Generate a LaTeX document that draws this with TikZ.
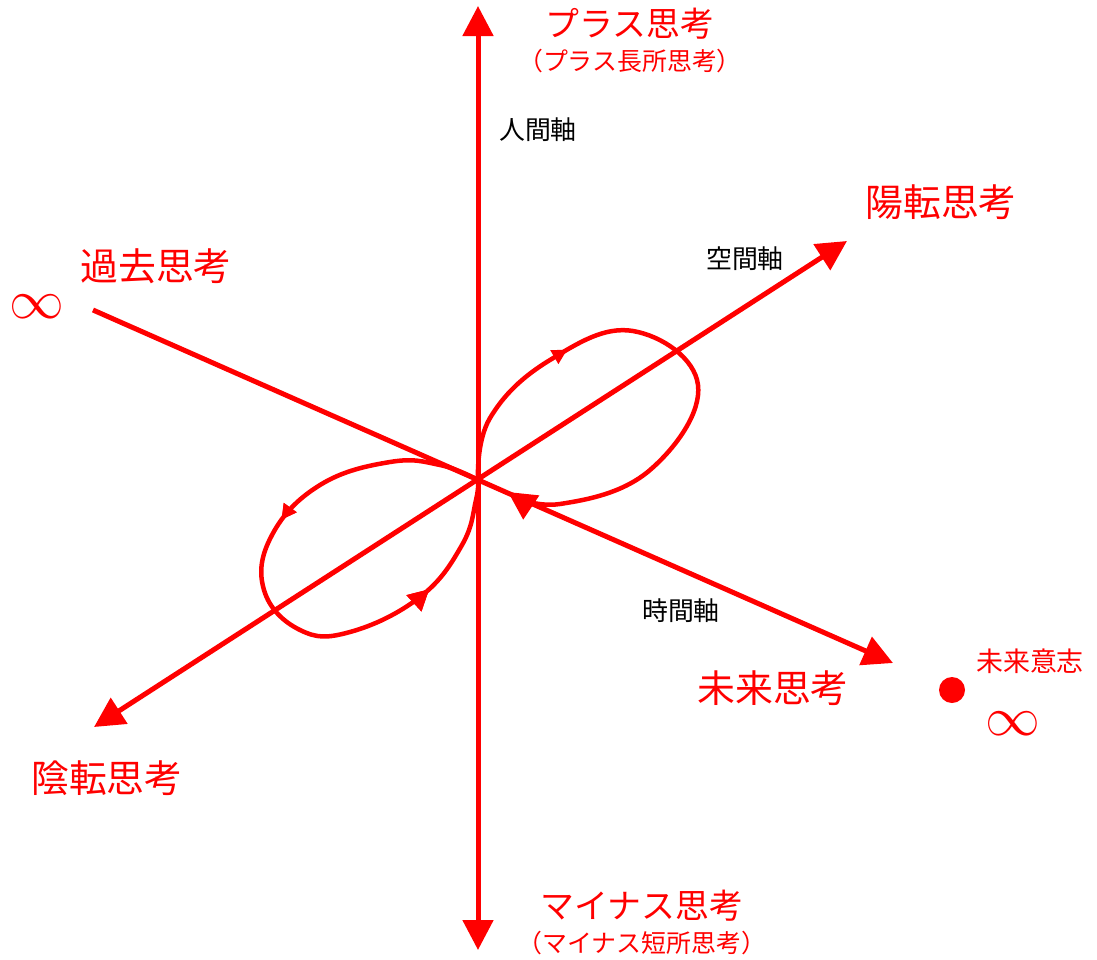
\documentclass[tikz,border=0pt]{standalone}
\usepackage{fontspec}
\setmainfont{Noto Sans CJK JP}
\usetikzlibrary{arrows.meta, positioning, decorations.markings}

\begin{document}
\begin{tikzpicture}[x=1bp, y=-1bp,
  axis/.style={red, line width=5bp},
  bigtip/.style={-{Triangle[width=30bp,length=30bp]}},
  loopline/.style={red, line width=4.5bp},
  head/.style={font=\fontsize{38}{42}\selectfont, text=red, inner sep=0pt},
  pmhead/.style={font=\fontsize{34}{38}\selectfont, text=red, inner sep=0pt},
  note/.style={font=\fontsize{25}{28}\selectfont, text=red, inner sep=0pt},
  axisname/.style={font=\fontsize{26}{28}\selectfont, inner sep=0pt},
  inftymark/.style={text=red, inner sep=0pt, scale=5.5},
  midtip/.style 2 args={postaction={decorate}, decoration={markings,
    mark=at position #1 with {\arrow{Triangle[width=#2,length=#2]}}}}]
\useasboundingbox (0,0) rectangle (1097,960);

% 軸の端点
\coordinate (o) at (478,480);
\coordinate (top) at (478,6);
\coordinate (bot) at (478,950);
\coordinate (past) at (93,310);
\coordinate (future) at (893,663);
\coordinate (ll) at (94,727);
\coordinate (ur) at (847,241);

% 軸
\draw[axis, {Triangle[width=30bp,length=30bp]}-{Triangle[width=30bp,length=30bp]}] (top) -- (bot);
\draw[axis, {Triangle[width=30bp,length=30bp]}-{Triangle[width=30bp,length=30bp]}] (ll) -- (ur);
\draw[axis, bigtip] (past) -- (future);

% ループ
\draw[loopline, midtip={0.29}{15bp}, -{Triangle[width=28bp,length=28bp]}]
  plot[smooth, tension=0.7] coordinates {(o) (490,418) (550,360) (633,331) (698,385) (650,470) (560,504) (508,492)};
\draw[loopline, midtip={0.355}{15bp}, midtip={0.80}{21bp}]
  plot[smooth, tension=0.7] coordinates {(o) (440,465) (390,462) (320,485) (272,535) (264,590) (300,630) (350,632) (420,597) (462,545) (476,500) (o)};

% ラベル
\node[pmhead] (plus) at (630,24) {プラス思考};
\node[note, below=9bp of plus] (plusnote) {（プラス長所思考）};
\node[pmhead] (minus) at (642,906) {マイナス思考};
\node[note, below=9bp of minus] (minusnote) {（マイナス短所思考）};
\node[head] (kako) at (156,266) {過去思考};
\node[head] (mirai) at (773,688) {未来思考};
\node[head] (youten) at (941,202) {陽転思考};
\node[head] (inten) at (107,778) {陰転思考};
\node[axisname] (ningen) at (538,130) {人間軸};
\node[axisname] (kuukan) at (745,259) {空間軸};
\node[axisname] (jikan) at (681,611) {時間軸};
\node[note, font=\fontsize{27}{30}\selectfont] (ishi) at (1030,661) {未来意志};
\fill[red] (952,690) circle (13bp) coordinate (dot);
\node[inftymark] (inftyL) at (37,307) {$\infty$};
\node[inftymark] (inftyR) at (1013,724) {$\infty$};
\end{tikzpicture}
\end{document}
